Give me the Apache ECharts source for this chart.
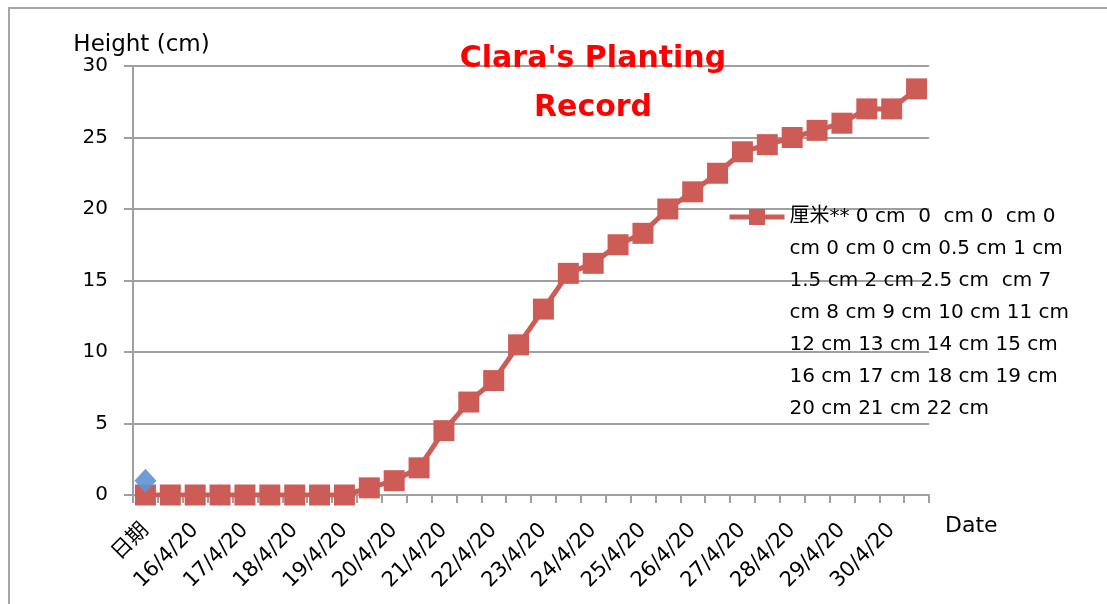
<!DOCTYPE html>
<html>
<head>
<meta charset="utf-8">
<title>Clara's Planting Record</title>
<script src="https://cdn.jsdelivr.net/npm/echarts@6/dist/echarts.min.js"></script>
<style>
  html, body { margin: 0; padding: 0; background: #fff; }
  #chart { position: absolute; left: 0; top: 0; width: 1107px; height: 604px; }
  #frame {
    position: absolute; left: 8px; top: 7px; right: -4px; bottom: -4px;
    border-top: 2px solid #a6a6a6; border-left: 2px solid #a6a6a6;
    pointer-events: none;
  }
</style>
</head>
<body>
<div id="chart"></div>
<div id="frame"></div>
<script>
// x categories: two readings per day, only every other one is labelled
const dates = [
  "日期", "", "16/4/20", "", "17/4/20", "", "18/4/20", "", "19/4/20", "",
  "20/4/20", "", "21/4/20", "", "22/4/20", "", "23/4/20", "", "24/4/20", "",
  "25/4/20", "", "26/4/20", "", "27/4/20", "", "28/4/20", "", "29/4/20", "",
  "30/4/20", ""
];

// height in cm
const heights = [
  0, 0, 0, 0, 0, 0, 0, 0, 0, 0.5,
  1, 1.9, 4.5, 6.5, 8, 10.5, 13, 15.5, 16.2, 17.5,
  18.3, 20, 21.2, 22.5, 24, 24.5, 25, 25.5, 26, 27,
  27, 28.4
];

// stray point of the first series
const firstSeries = [1];

// legend name as it wraps in the picture
const legendLines = [
  "厘米** 0 cm  0  cm 0  cm 0",
  "cm 0 cm 0 cm 0.5 cm 1 cm",
  "1.5 cm 2 cm 2.5 cm  cm 7",
  "cm 8 cm 9 cm 10 cm 11 cm",
  "12 cm 13 cm 14 cm 15 cm",
  "16 cm 17 cm 18 cm 19 cm",
  "20 cm 21 cm 22 cm"
];
const heightName = legendLines.join(" ");

const FONT = "'DejaVu Sans', 'Noto Sans CJK SC', sans-serif";
const GREY = "#a0a0a0";
const RED = "#cd5c57";
const BLUE = "#5f93d3";

const chart = echarts.init(document.getElementById("chart"));

// blank lines in front so the icon sits on the first text line
const legendText = () =>
  new Array(legendLines.length - 1).fill("").concat(legendLines).join("\n");

const option = {
  animation: false,
  textStyle: { fontFamily: FONT, color: "#000" },
  title: {
    text: "Clara's Planting\nRecord",
    left: 588,
    top: 30,
    textAlign: "center",
    textStyle: {
      color: "#ff0000",
      fontWeight: "bold",
      fontSize: 30,
      lineHeight: 49,
      fontFamily: FONT
    }
  },
  legend: {
    data: [heightName],
    left: 727,
    top: 9,
    padding: 0,
    itemWidth: 55,
    itemHeight: 20,
    itemGap: 0,
    lineStyle: { width: 5 },
    formatter: legendText,
    textStyle: {
      fontSize: 20,
      lineHeight: 32,
      color: "#000",
      fontFamily: FONT
    }
  },
  grid: {
    left: 133,
    right: 178,
    top: 66,
    bottom: 109,
    containLabel: false
  },
  xAxis: {
    type: "category",
    data: dates,
    boundaryGap: true,
    name: "Date",
    nameLocation: "end",
    nameGap: 16,
    nameTextStyle: {
      fontSize: 22,
      color: "#000",
      verticalAlign: "top",
      padding: [20, 0, 0, 0]
    },
    axisLine: { lineStyle: { color: GREY, width: 2 } },
    axisTick: {
      show: true,
      interval: 0,
      length: 8,
      lineStyle: { color: GREY, width: 2 }
    },
    axisLabel: {
      interval: 1,
      rotate: 45,
      fontSize: 21,
      margin: 32,
      color: "#000"
    },
    splitLine: { show: false }
  },
  yAxis: {
    type: "value",
    min: 0,
    max: 30,
    interval: 5,
    name: "Height (cm)",
    nameLocation: "end",
    nameGap: 1,
    nameTextStyle: {
      fontSize: 23,
      color: "#000",
      align: "center",
      padding: [0, 0, 0, 17]
    },
    axisLine: { show: true, lineStyle: { color: GREY, width: 2 } },
    axisTick: { show: true, length: 9, lineStyle: { color: GREY, width: 2 } },
    axisLabel: { fontSize: 20, margin: 25, color: "#000" },
    splitLine: { show: true, lineStyle: { color: GREY, width: 2 } }
  },
  series: [
    {
      name: heightName,
      type: "line",
      data: heights,
      symbol: "rect",
      symbolSize: 21,
      showAllSymbol: true,
      lineStyle: { color: RED, width: 5 },
      itemStyle: { color: RED },
      z: 2
    },
    {
      name: "日期",
      type: "line",
      data: firstSeries,
      symbol: "diamond",
      symbolSize: [22, 24],
      itemStyle: { color: BLUE, opacity: 0.9 },
      lineStyle: { color: BLUE },
      z: 3
    }
  ]
};

chart.setOption(option);
</script>
</body>
</html>
